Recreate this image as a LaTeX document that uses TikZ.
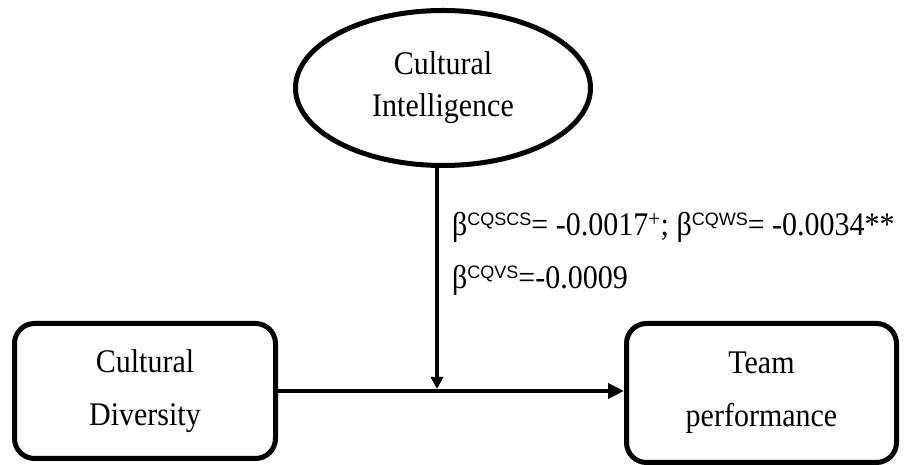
\documentclass[tikz,border=0pt]{standalone}
\usepackage{fontspec}
\setmainfont{Liberation Serif}
\newfontfamily\supfont{Liberation Sans}
\usetikzlibrary{shapes.geometric,arrows.meta}
\newcommand{\tall}[1]{\scalebox{1}[1.1]{#1}}
\newcommand{\cqsup}[1]{\raisebox{10pt}{\fontsize{18}{18}\supfont #1}}
\begin{document}
\begin{tikzpicture}[x=1pt,y=1pt,font=\fontsize{30}{53}\selectfont]
	\useasboundingbox (0,0) rectangle (906,465);
	\begin{scope}[line width=5pt]
		\tikzstyle{every node}=[draw,align=center,inner sep=0pt];
		\tikzstyle{varbox}=[rectangle,rounded corners=20pt];
		\path (443,377)   node (ci) [ellipse,minimum width=295pt,minimum height=155pt,font=\fontsize{30}{42}\selectfont] {\tall{Cultural}\\\tall{Intelligence}};
		\path (145,74)    node (cd) [varbox,minimum width=261pt,minimum height=135pt] {\tall{Cultural}\\\tall{Diversity}};
		\path (761.5,72)  node (tp) [varbox,minimum width=270pt,minimum height=139pt] {\tall{Team}\\\tall{performance}};
	\end{scope}
	\coordinate (mod) at (437,76);
	\draw[line width=4pt,-{Triangle[length=16pt,width=15pt]}] (cd.east) -- (cd.east -| tp.west);
	\draw[line width=3.5pt,-{Triangle[length=12pt,width=12pt]}] (ci.south -| mod) -- (mod);

	\node (b1) [anchor=base west,inner sep=0pt] at (452,229) {\tall{β}\cqsup{CQSCS}\tall{= -0.0017\textsuperscript{+}; β}\cqsup{CQWS}\tall{= -0.0034**}};
	\node (b2) [anchor=base west,inner sep=0pt] at (452,176) {\tall{β}\cqsup{CQVS}\tall{=-0.0009}};
\end{tikzpicture}
\end{document}
